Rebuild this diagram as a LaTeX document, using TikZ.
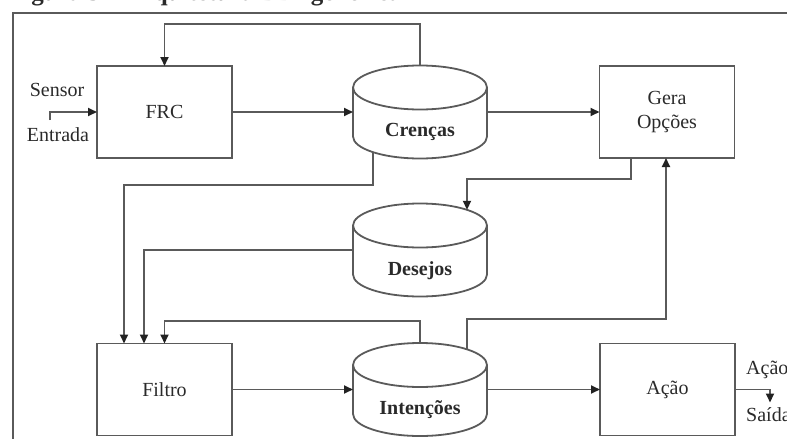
\documentclass[tikz,border=0pt]{standalone}
\usepackage{fontspec}
\setmainfont{Liberation Serif}
\usetikzlibrary{arrows.meta,calc}
\definecolor{linegray}{HTML}{5A5A5A}
\definecolor{textgray}{HTML}{2A2A2A}
\definecolor{tipgray}{HTML}{222222}

% vertical cylinder drawn over an invisible node of the same size
\newcommand\drawcyl[1]{%
  \draw[wire] ([yshift=-22pt]#1.north west) -- ([yshift=22pt]#1.south west)
    arc[start angle=180,end angle=360,x radius=67pt,y radius=22pt]
    -- ([yshift=-22pt]#1.north east)
    arc[start angle=0,end angle=360,x radius=67pt,y radius=22pt];}

\begin{document}
\begin{tikzpicture}[x=1pt,y=-1pt,
  wire/.style={draw=linegray,line width=1.8pt},
  arr/.style={wire,-{Triangle[length=9pt,width=8pt,color=tipgray]}},
  box/.style={draw=linegray,line width=1.8pt,minimum width=135pt,minimum height=92pt,
    inner sep=0pt,outer sep=0pt,align=center,text=textgray,
    font=\fontsize{20}{24}\selectfont},
  cyl/.style={minimum width=134pt,minimum height=93pt,inner sep=0pt,outer sep=0pt},
  cyltext/.style={text=textgray,font=\bfseries\fontsize{20}{24}\selectfont,
    text height=14pt,text depth=5pt,inner sep=0pt},
  lbl/.style={text=textgray,font=\fontsize{20}{24}\selectfont,inner sep=0pt}]

\useasboundingbox (0,0) rectangle (787,439);
\clip (0,0) rectangle (787,439);

% caption (cut by the top edge)
\node[anchor=base west,inner sep=0pt,text=textgray,font=\bfseries\fontsize{25}{30}\selectfont]
  (title) at (9,0.5) {Figura 3 – Arquitetura BDI genérica};

% outer frame
\draw[wire] (13,439) -- (13,13) -- (787,13);

% process blocks
\node[box] (frc)    at (164.5,112)   {FRC};
\node[box] (gera)   at (667,112)     {Gera\\Opções};
\node[box] (filtro) at (164.5,389.5) {Filtro};
\node[box] (acao)   at (667.5,389.5) {Ação};

% data stores
\node[cyl] (cren) at (420,112) {};
\node[cyl] (des)  at (420,250) {};
\node[cyl] (int)  at (420,389.5) {};
\drawcyl{cren}
\drawcyl{des}
\drawcyl{int}
\node[cyltext] (crenT) at ([yshift=-20pt]cren.center) {Crenças};
\node[cyltext] (desT)  at ([yshift=-21pt]des.center)  {Desejos};
\node[cyltext] (intT)  at ([yshift=-20pt]int.center)  {Intenções};

% input
\node[lbl] (sensor)  at (57,90)  {Sensor};
\node[lbl] (entrada) at (58,135) {Entrada};
\coordinate (sensIn) at (50,120);
\draw[arr] (sensIn) |- (frc.west);

% top row
\draw[arr] (frc.east) -- (frc.east -| cren.west);
\draw[arr] (cren.north) -- ++(0,-41.5) -| (frc.north);
\draw[arr] (cren.east) -- (cren.east -| gera.west);

% options to desires
\draw[arr] ([xshift=-36pt]gera.south) -- ++(0,21) -| ([xshift=47pt,yshift=-6.3pt]des.north);

% intentions back to option generation
\draw[arr] ([xshift=47pt,yshift=-6.3pt]int.north) -- ++(0,-30) -| ([xshift=-1pt]gera.south);

% inputs of the filter
\draw[arr] ([xshift=-47pt,yshift=6.3pt]cren.south) -- ++(0,33) -| ([xshift=-40.5pt]filtro.north);
\draw[arr] (des.west) -| ([xshift=-20.5pt]filtro.north);
\draw[arr] (int.north) -- ++(0,-22) -| (filtro.north);

% bottom row
\draw[arr] (filtro.east) -- (filtro.east -| int.west);
\draw[arr] (int.east) -- (int.east -| acao.west);

% output
\draw[arr] (acao.east) -- ++(35,0) -- ++(0,13);
\node[lbl,anchor=west] (acaoOut) at (746,370) {Ação};
\node[lbl,anchor=west] (saida)   at (746,415) {Saída};
\end{tikzpicture}
\end{document}
